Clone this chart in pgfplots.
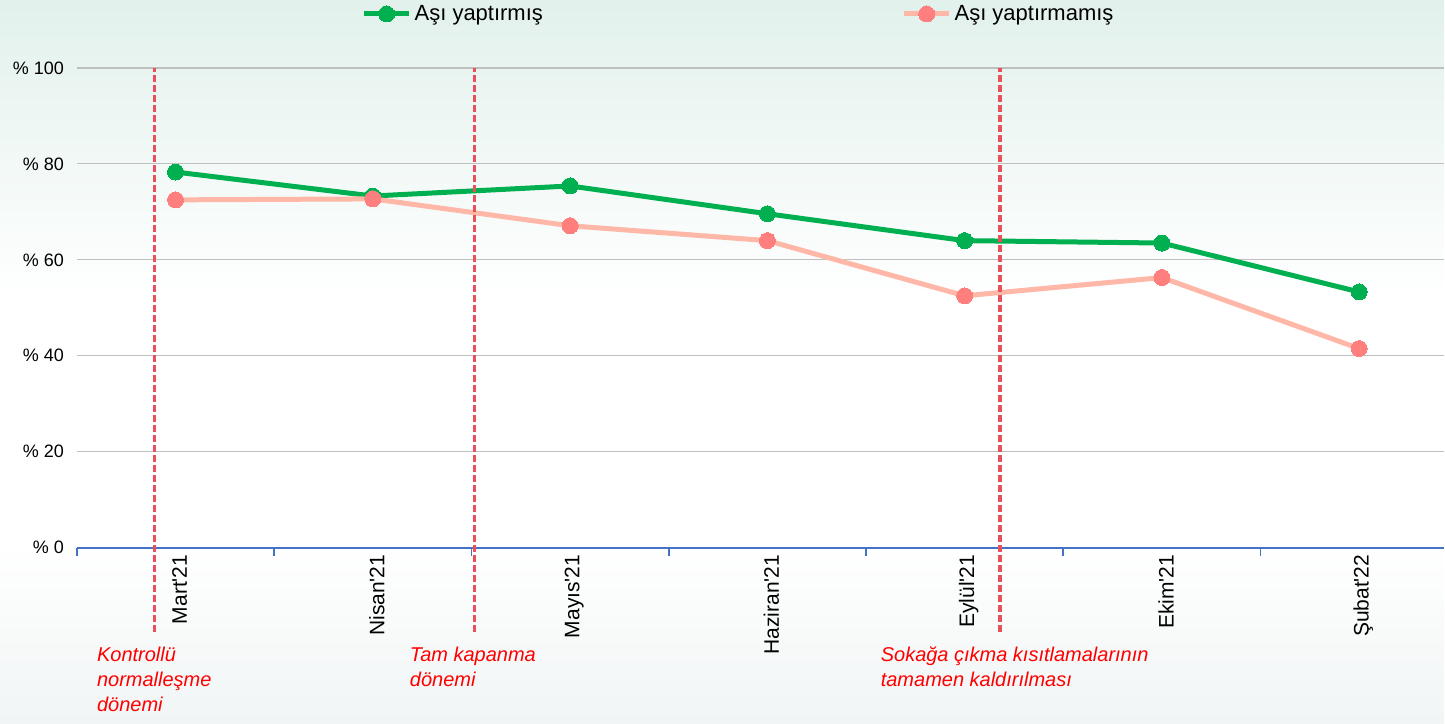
\documentclass[border=0pt]{standalone}
\usepackage{fontspec}
\setmainfont{Liberation Sans}
\usepackage{pgfplots}
\pgfplotsset{compat=1.18}
\definecolor{bgtop}{HTML}{E2F1EC}
\definecolor{bgbot}{HTML}{F1F5F5}
\definecolor{gridc}{HTML}{BFBFBF}
\definecolor{axblue}{HTML}{4472C4}
\definecolor{vgreen}{HTML}{00B050}
\definecolor{nline}{HTML}{FFB7A8}
\definecolor{nmark}{HTML}{FF7F7F}
\definecolor{dred}{HTML}{E8505B}
\definecolor{annred}{HTML}{FF0000}

\begin{document}
\begin{tikzpicture}[x=1pt,y=1pt]
% background: 1445x724 px at 0.5pt per px
\fill[white] (0,0) rectangle (722.5,362);
\shade[top color=bgtop,bottom color=white] (0,212) rectangle (722.5,362);
\shade[top color=white,bottom color=bgbot] (0,0) rectangle (722.5,90);
\begin{axis}[
  at={(38.5pt,88pt)},anchor=south west,
  scale only axis,width=684pt,height=240pt,
  xmin=-0.5,xmax=6.43,ymin=0,ymax=100,
  clip=false,
  axis x line*=bottom,axis y line*=left,
  x axis line style={draw=none},
  y axis line style={draw=none},
  xtick={0,...,6},
  xticklabels={Mart\textquotesingle 21,Nisan\textquotesingle 21,Mayıs\textquotesingle 21,Haziran\textquotesingle 21,Eylül\textquotesingle 21,Ekim\textquotesingle 21,Şubat\textquotesingle 22},
  xticklabel style={rotate=90,anchor=east,font=\fontsize{10.5}{12}\selectfont,yshift=-2pt},
  xtick style={draw=axblue,line width=0.8pt},
  major tick length=0pt,
  extra x ticks={-0.5,0.5,1.5,2.5,3.5,4.5,5.5},
  extra x tick labels={},
  extra x tick style={tick align=outside,major tick length=4pt,grid=none},
  ytick={0,20,40,60,80,100},
  yticklabels={\% 0,\% 20,\% 40,\% 60,\% 80,\% 100},
  yticklabel style={font=\fontsize{9}{10}\selectfont,xshift=-3pt},
  ytick style={draw=none},
  ymajorgrids,
  grid style={draw=gridc,line width=0.6pt},
  legend columns=2,
  legend style={draw=none,fill=none,at={(0.208,1.1125)},anchor=west,
    font=\fontsize{11}{13}\selectfont,inner sep=0pt,
    nodes={inner sep=1.5pt},
    /tikz/every even column/.append style={column sep=178pt}},
  legend image code/.code={
    \draw[mark repeat=2,mark phase=2,#1] plot coordinates {(0pt,0pt) (11.25pt,0pt) (22.5pt,0pt)};},
]
% blue base line
\addplot[axblue,line width=1pt,forget plot] coordinates {(-0.5,0)(6.43,0)};
\addplot[vgreen,line width=2.5pt,mark=*,mark size=4pt,mark options={fill=vgreen,draw=vgreen,line width=0pt}]
  coordinates {(0,78.3)(1,73.3)(2,75.4)(3,69.6)(4,64.0)(5,63.5)(6,53.3)};
\addlegendentry{Aşı yaptırmış}
\addplot[nline,line width=2.5pt,mark=*,mark size=4pt,mark options={fill=nmark,draw=nmark,line width=0pt}]
  coordinates {(0,72.5)(1,72.7)(2,67.1)(3,64.0)(4,52.5)(5,56.3)(6,41.5)};
\addlegendentry{Aşı yaptırmamış}
% period markers
\addplot[dred,line width=1.8pt,dash pattern=on 3.5pt off 1.5pt,forget plot] coordinates {(-0.106,-17.5)(-0.106,100)};
\addplot[dred,line width=1.8pt,dash pattern=on 3.5pt off 1.5pt,forget plot] coordinates {(1.515,-17.5)(1.515,100)};
\addplot[dred,line width=1.8pt,dash pattern=on 3.5pt off 1.5pt,forget plot] coordinates {(4.18,-17.5)(4.18,100)};
\node[anchor=north west,align=left,inner sep=0pt,text=annred,font=\itshape\fontsize{10}{12.5}\selectfont]
  at (axis cs:-0.40,-20.6) {Kontrollü\\normalleşme\\dönemi};
\node[anchor=north west,align=left,inner sep=0pt,text=annred,font=\itshape\fontsize{10}{12.5}\selectfont]
  at (axis cs:1.186,-20.6) {Tam kapanma\\dönemi};
\node[anchor=north west,align=left,inner sep=0pt,text=annred,font=\itshape\fontsize{10}{12.5}\selectfont]
  at (axis cs:3.573,-20.6) {Sokağa çıkma kısıtlamalarının\\tamamen kaldırılması};
\end{axis}
\end{tikzpicture}
\end{document}
